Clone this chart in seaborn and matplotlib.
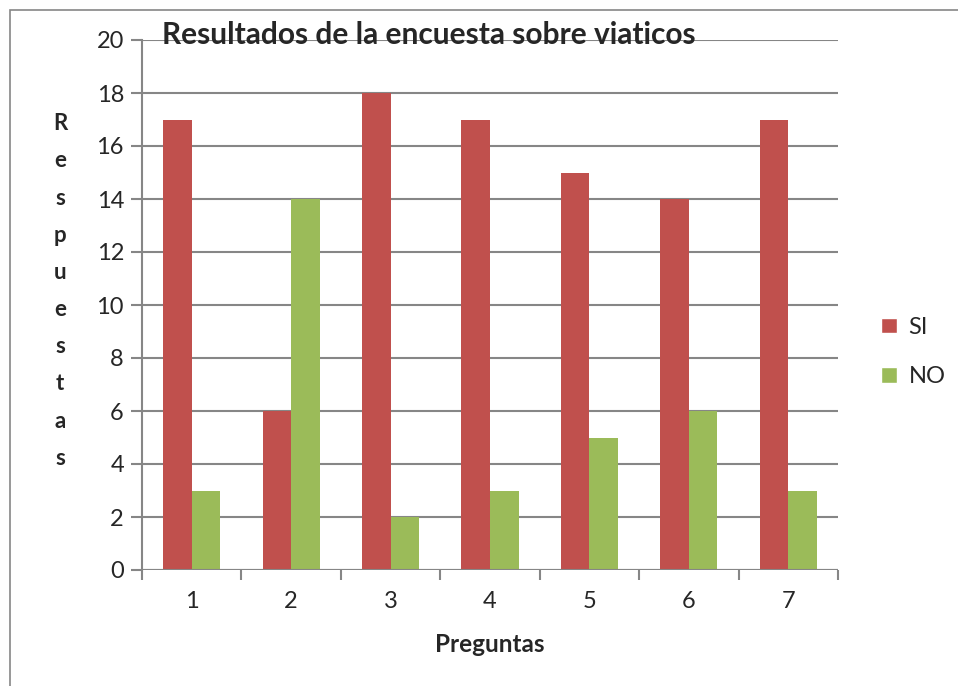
import matplotlib
matplotlib.use("Agg")
import matplotlib.pyplot as plt
import numpy as np
import pandas as pd
import seaborn as sns
from matplotlib.patches import Rectangle, Patch

sns.set_style("white")
plt.rcParams["font.family"] = ["Lato", "DejaVu Sans"]

preguntas = ["1", "2", "3", "4", "5", "6", "7"]
si = [17, 6, 18, 17, 15, 14, 17]
no = [3, 14, 2, 3, 5, 6, 3]
series = ["SI", "NO"]
colors = ["#C0504D", "#9BBB59"]

data = pd.DataFrame({
    "Pregunta": preguntas * 2,
    "Respuestas": si + no,
    "Serie": ["SI"] * len(si) + ["NO"] * len(no),
})

fig = plt.figure(figsize=(9.58, 6.86), dpi=100)
ax = fig.add_axes([142 / 958, 1 - 570 / 686, (838 - 142) / 958, (570 - 40) / 686])

sns.barplot(data=data, x="Pregunta", y="Respuestas", hue="Serie",
            hue_order=series, palette=colors, width=0.575, saturation=1,
            gap=0, ax=ax, legend=False, zorder=3, linewidth=0)

ax.set_ylim(0, 20)
ax.set_xlim(-0.5, 6.5)
ax.set_yticks(np.arange(0, 21, 2))
ax.yaxis.grid(True, color="#868686", linewidth=1.5, zorder=0)
for s in ["top", "right", "bottom"]:
    ax.spines[s].set_visible(False)
ax.spines["left"].set_color("#868686")
ax.spines["left"].set_linewidth(1.5)
ax.axhline(0, color="#868686", linewidth=1.5, zorder=4)
ax.tick_params(axis="y", length=8, width=1.5, color="#868686", labelsize=17, pad=5, left=True)
ax.tick_params(axis="x", which="major", length=0, labelsize=17, pad=15)
ax.set_xticks(np.arange(-0.5, 7, 1), minor=True)
ax.tick_params(axis="x", which="minor", length=7, width=1.5, color="#868686", bottom=True)
ax.set_xlabel("")
ax.set_ylabel("")

fig.text(490 / 958, 1 - 645 / 686, "Preguntas", ha="center", va="center",
         fontsize=17.5, fontweight="bold")
fig.text(60 / 958, 1 - 291 / 686, "\n".join("Respuestas"), ha="center", va="center",
         fontsize=16, fontweight="bold", linespacing=1.95)
fig.text(429 / 958, 1 - 35 / 686, "Resultados de la encuesta sobre viaticos",
         ha="center", va="center", fontsize=21.5, fontweight="bold")

handles = [Patch(facecolor=c, label=l) for c, l in zip(colors, series)]
fig.legend(handles=handles, loc="center left", bbox_to_anchor=(860 / 958, 1 - 352 / 686),
           frameon=False, fontsize=17, handlelength=0.65, handleheight=0.65,
           labelspacing=1.2, handletextpad=0.5)

fig.patches.append(Rectangle((10 / 958, -0.1), 1.2, 1 - 10 / 686 + 0.1,
                             transform=fig.transFigure, fill=False,
                             edgecolor="#868686", linewidth=1.2))

fig.savefig("out.png", dpi=100)
